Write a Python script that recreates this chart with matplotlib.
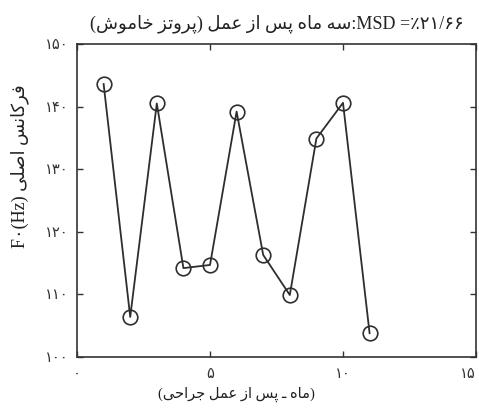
import matplotlib
matplotlib.use("Agg")
import matplotlib.pyplot as plt

# ---------------- data ----------------
months = [1, 2, 3, 4, 5, 6, 7, 8, 9, 10, 11]
f0_values = [143.6, 106.4, 140.5, 114.2, 114.7, 139.2, 116.3, 109.9, 134.9, 140.6, 103.8]

x_ticks = [0, 5, 10, 15]
x_tick_labels = ["۰", "۵", "۱۰", "۱۵"]
y_ticks = [100, 110, 120, 130, 140, 150]
y_tick_labels = ["۱۰۰", "۱۱۰", "۱۲۰", "۱۳۰", "۱۴۰", "۱۵۰"]

title_fa = "سه ماه پس از عمل (پروتز خاموش)"
title_latin = ":MSD ="
title_value = "٪۲۱/۶۶"
xlabel_fa = "(ماه ـ پس از عمل جراحی)"
ylabel_latin = "F۰(Hz) "
ylabel_fa = "فرکانس اصلی"

# ------------- minimal Arabic/Persian shaping (matplotlib has no shaping) -------------
FORMS = {  # isolated, final, initial, medial
    "ا": ("\uFE8D", "\uFE8E", None, None),
    "ب": ("\uFE8F", "\uFE90", "\uFE91", "\uFE92"),
    "پ": ("\uFB56", "\uFB57", "\uFB58", "\uFB59"),
    "ت": ("\uFE95", "\uFE96", "\uFE97", "\uFE98"),
    "ج": ("\uFE9D", "\uFE9E", "\uFE9F", "\uFEA0"),
    "ح": ("\uFEA1", "\uFEA2", "\uFEA3", "\uFEA4"),
    "خ": ("\uFEA5", "\uFEA6", "\uFEA7", "\uFEA8"),
    "د": ("\uFEA9", "\uFEAA", None, None),
    "ر": ("\uFEAD", "\uFEAE", None, None),
    "ز": ("\uFEAF", "\uFEB0", None, None),
    "س": ("\uFEB1", "\uFEB2", "\uFEB3", "\uFEB4"),
    "ش": ("\uFEB5", "\uFEB6", "\uFEB7", "\uFEB8"),
    "ص": ("\uFEB9", "\uFEBA", "\uFEBB", "\uFEBC"),
    "ع": ("\uFEC9", "\uFECA", "\uFECB", "\uFECC"),
    "ف": ("\uFED1", "\uFED2", "\uFED3", "\uFED4"),
    "ک": ("\uFB8E", "\uFB8F", "\uFB90", "\uFB91"),
    "ل": ("\uFEDD", "\uFEDE", "\uFEDF", "\uFEE0"),
    "م": ("\uFEE1", "\uFEE2", "\uFEE3", "\uFEE4"),
    "ن": ("\uFEE5", "\uFEE6", "\uFEE7", "\uFEE8"),
    "ه": ("\uFEE9", "\uFEEA", "\uFEEB", "\uFEEC"),
    "و": ("\uFEED", "\uFEEE", None, None),
    "ی": ("\uFBFC", "\uFBFD", "\uFBFE", "\uFBFF"),
}
TATWEEL = "ـ"


def joins_next(ch):
    if ch == TATWEEL:
        return True
    f = FORMS.get(ch)
    return f is not None and f[2] is not None


def joinable(ch):
    return ch == TATWEEL or ch in FORMS


def rtl(text):
    out = []
    n = len(text)
    for i, ch in enumerate(text):
        if ch not in FORMS:
            out.append(ch)
            continue
        prev = text[i - 1] if i > 0 else ""
        nxt = text[i + 1] if i + 1 < n else ""
        cp = prev != "" and joins_next(prev)
        cn = joins_next(ch) and nxt != "" and joinable(nxt)
        iso, fin, ini, med = FORMS[ch]
        if cp and cn:
            out.append(med)
        elif cp:
            out.append(fin)
        elif cn:
            out.append(ini)
        else:
            out.append(iso)
    vis = "".join(reversed(out))
    swap = {"(": ")", ")": "("}
    return "".join(swap.get(c, c) for c in vis)


plt.rcParams["font.family"] = ["Liberation Serif", "DejaVu Sans"]

fig = plt.figure(figsize=(4.79, 4.13), dpi=100, facecolor="white")
ax = fig.add_axes([0.1608, 0.1356, 0.8329, 0.7579])

ink = "#2e2e2e"
ax.plot(months, f0_values, color=ink, linewidth=1.3,
        marker="o", markersize=10.5, markerfacecolor="none",
        markeredgecolor=ink, markeredgewidth=1.2)

ax.set_xlim(0, 15)
ax.set_ylim(100, 150)
ax.set_xticks(x_ticks)
ax.set_xticklabels(x_tick_labels)
ax.set_yticks(y_ticks)
ax.set_yticklabels(y_tick_labels)
ax.tick_params(direction="in", length=4, width=1, top=True, right=True,
               labelsize=10.5, colors="#333333")
ax.tick_params(axis="x", pad=8)
ax.tick_params(axis="y", pad=6)
ax.get_xticklabels()[-1].set_horizontalalignment("right")

for s in ax.spines.values():
    s.set_color("#333333")
    s.set_linewidth(1.2)

ax.set_title(rtl(title_fa) + title_latin + title_value, fontsize=13,
             color="#222222", pad=11)
ax.set_xlabel(rtl(xlabel_fa), fontsize=10.5, color="#222222")
ax.xaxis.set_label_coords(0.40, -0.095)
ax.set_ylabel(ylabel_latin + rtl(ylabel_fa), fontsize=13, color="#222222")
ax.yaxis.set_label_coords(-0.12, 0.61)

fig.savefig("out.png", dpi=100, facecolor="white")
